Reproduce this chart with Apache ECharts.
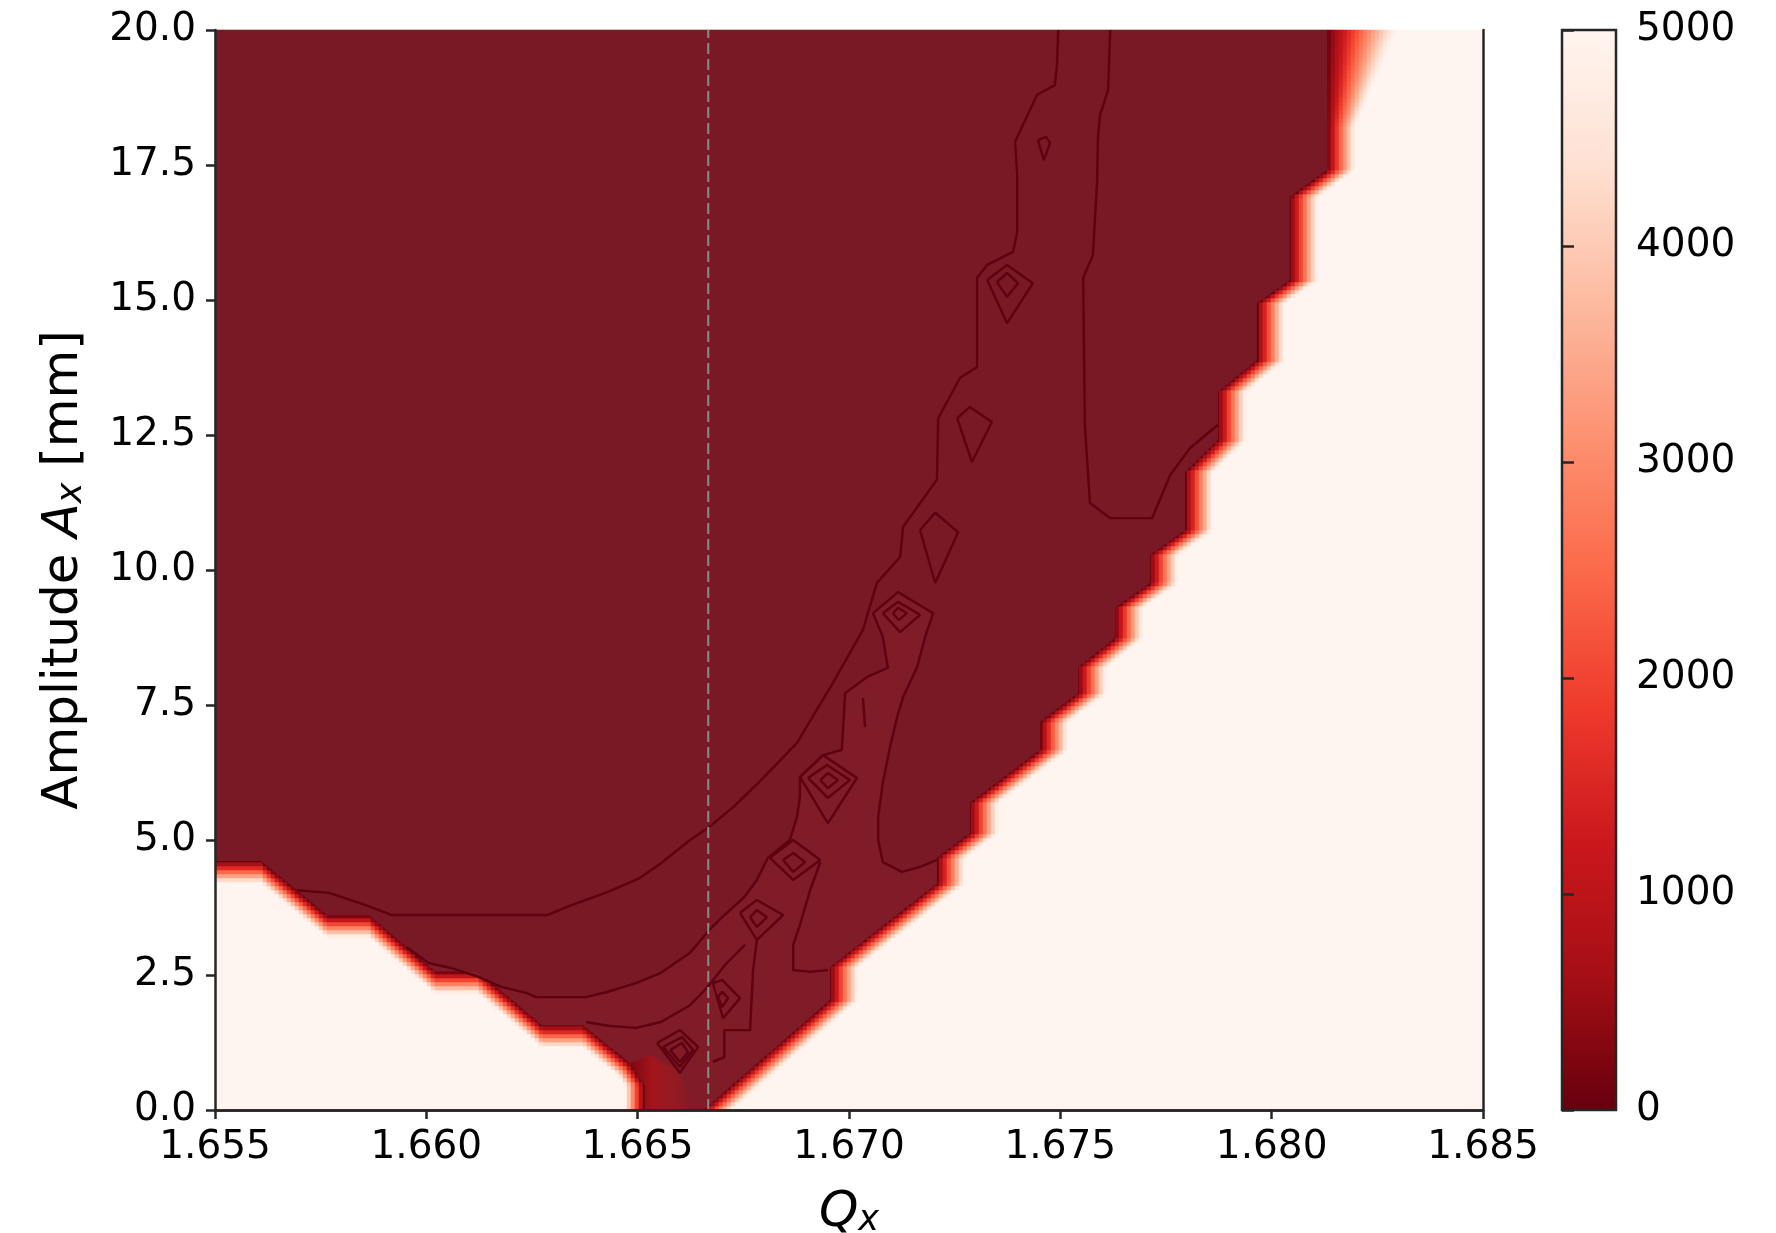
<!DOCTYPE html>
<html><head><meta charset="utf-8">
<script src="https://cdn.jsdelivr.net/npm/echarts@6/dist/echarts.min.js"></script>
<style>html,body{margin:0;padding:0;background:#fff}#c{width:1776px;height:1233px}</style>
</head><body><div id="c"></div>
<script>
// ---------------- data ----------------
const qRange = [1.655, 1.685];
const aRange = [0, 20];
const turnRange = [0, 5000];
const qTickStep = 0.005, aTickStep = 2.5, turnTickStep = 1000;
const resonanceQ = 1.66667;

// right edge of the stable region, top -> bottom
const rightEdgeQ = [1.68131,1.68131,1.68043,1.68043,1.67965,1.67965,1.67873,1.67873,1.67795,1.67795,1.67712,1.67712,1.67629,1.67629,1.67542,1.67542,1.67452,1.67452,1.67286,1.67286,1.67208,1.67208,1.66955,1.66955,1.66655];
const rightEdgeA = [20,17.41,16.91,15.37,14.94,13.89,13.30,12.41,11.81,10.74,10.28,9.76,9.30,8.74,8.20,7.72,7.19,6.67,5.69,5.13,4.67,4.20,2.65,2.04,0];
// lower-left edge of the stable region, bottom -> top-left
const leftEdgeQ = [1.66517,1.66517,1.66482,1.66371,1.66274,1.66122,1.66021,1.65864,1.65765,1.65609,1.655];
const leftEdgeA = [0,0.46,0.87,1.57,1.57,2.57,2.57,3.61,3.61,4.61,4.61];

// contour lines inside the stable region  [Qx, Ax]
const contourArc = [[1.65694,4.07],[1.65770,4.02],[1.65855,3.80],[1.65919,3.61],[1.66286,3.61],[1.66345,3.80],[1.66430,4.04],[1.66506,4.30],[1.66555,4.57],[1.66624,5.00],[1.66669,5.24],[1.66726,5.61],[1.66792,6.11],[1.66877,6.80],[1.66962,7.91],[1.67033,8.89],[1.67066,9.76],[1.67121,10.24],[1.67128,10.80],[1.67208,11.67],[1.67211,12.81],[1.67263,13.56],[1.67303,13.76],[1.67303,15.41],[1.67327,15.65],[1.67388,15.89],[1.67398,16.26],[1.67398,17.31],[1.67393,17.93],[1.67445,18.80],[1.67487,18.98],[1.67492,19.35],[1.67495,20.0]];
const contourRight = [[1.67618,20],[1.67613,18.89],[1.67594,18.43],[1.67589,18.0],[1.67587,17.19],[1.67577,15.83],[1.67554,15.41],[1.67558,12.69],[1.67570,11.24],[1.67618,10.96],[1.67717,10.96],[1.67760,11.76],[1.67807,12.26],[1.67873,12.69]];
const contourStripe = [[1.65952,3.02],[1.66006,2.72],[1.66058,2.63],[1.66125,2.46],[1.66177,2.28],[1.66236,2.17],[1.66260,2.09],[1.66378,2.09],[1.66430,2.19],[1.66496,2.35],[1.66555,2.54],[1.66624,2.91],[1.66669,3.33],[1.66700,3.57],[1.66752,3.94],[1.66782,4.26],[1.66808,4.67],[1.66860,5.00],[1.66877,5.43],[1.66884,5.80],[1.66884,6.17],[1.66939,6.57],[1.66983,6.67],[1.66991,7.72],[1.67043,8.02],[1.67092,8.19],[1.67080,8.76],[1.67057,9.20],[1.67116,9.59],[1.67199,9.20],[1.67180,8.76],[1.67161,8.20],[1.67128,7.65],[1.67114,7.28],[1.67097,6.72],[1.67080,6.06],[1.67069,5.43],[1.67069,5.00],[1.67080,4.59],[1.67125,4.41],[1.67168,4.50],[1.67208,4.63]];
const contourLow = [[1.66378,1.63],[1.66430,1.56],[1.66496,1.52],[1.66555,1.63],[1.66624,1.94],[1.66669,2.31],[1.66707,2.69],[1.66754,3.06]];
const contourS2 = [[1.66932,4.59],[1.66908,4.07],[1.66884,3.43],[1.66868,3.06],[1.66868,2.59],[1.66908,2.56],[1.66950,2.59]];
const contourS3 = [[1.66782,3.15],[1.66773,2.59],[1.66766,1.48],[1.66705,1.48],[1.66705,0.98],[1.66678,0.89]];
const contourTick = [[1.67033,7.63],[1.67038,7.09]];
const islands = [
  [[1.67168,10.74],[1.67204,11.06],[1.67258,10.70],[1.67204,9.76],[1.67168,10.74]],
  [[1.67256,12.81],[1.67286,13.02],[1.67338,12.74],[1.67291,12.0],[1.67256,12.81]],
  [[1.67327,15.37],[1.67374,15.65],[1.67435,15.31],[1.67374,14.57],[1.67327,15.37]],
  [[1.67350,15.33],[1.67374,15.50],[1.67400,15.31],[1.67374,15.06],[1.67350,15.33]],
  [[1.67447,17.96],[1.67466,18.02],[1.67476,17.91],[1.67461,17.59],[1.67447,17.96]],
  [[1.67080,9.20],[1.67116,9.41],[1.67168,9.17],[1.67121,8.85],[1.67080,9.20]],
  [[1.67104,9.20],[1.67116,9.30],[1.67137,9.20],[1.67118,9.07],[1.67104,9.20]],
  [[1.66884,6.17],[1.66939,6.57],[1.67019,6.15],[1.66950,5.31],[1.66884,6.17]],
  [[1.66903,6.15],[1.66948,6.39],[1.67002,6.11],[1.66950,5.78],[1.66903,6.15]],
  [[1.66932,6.11],[1.66950,6.24],[1.66974,6.11],[1.66950,5.96],[1.66932,6.11]],
  [[1.66813,4.67],[1.66868,5.00],[1.66932,4.63],[1.66868,4.26],[1.66813,4.67]],
  [[1.66844,4.63],[1.66868,4.76],[1.66896,4.59],[1.66868,4.41],[1.66844,4.63]],
  [[1.66742,3.65],[1.66782,3.89],[1.66844,3.61],[1.66782,3.15],[1.66742,3.65]],
  [[1.66766,3.57],[1.66782,3.70],[1.66806,3.57],[1.66782,3.39],[1.66766,3.57]],
  [[1.66678,2.35],[1.66700,2.41],[1.66742,2.07],[1.66702,1.70],[1.66678,2.35]],
  [[1.66690,2.09],[1.66700,2.19],[1.66714,2.07],[1.66700,1.91],[1.66690,2.09]],
  [[1.66546,1.24],[1.66600,1.48],[1.66643,1.17],[1.66600,0.69],[1.66546,1.24]],
  [[1.66560,1.17],[1.66605,1.35],[1.66631,1.11],[1.66600,0.80],[1.66560,1.17]],
  [[1.66577,1.11],[1.66605,1.24],[1.66619,1.07],[1.66600,0.89],[1.66577,1.11]]
];
// low-survival smear at the bottom of the resonance (left edge of interior)
const smearPoly = [[1.66517,0],[1.66517,0.46],[1.66482,0.87],[1.66530,1.02],[1.66590,0.75],[1.66625,0.30],[1.66630,0]];

// ---------------- layout / style ----------------
const G = {left:215, top:30, width:1268, height:1080};
const CB = {left:1562, top:30, width:54, height:1080};
const NX = 317, NY = 270;            // heatmap cells (4 px each)
const bandX = 28, bandXTop = 42, bandXL = 20, bandY = 22; // blur width of image edge (px)
const reds = ['#67000d','#a50f15','#cb181d','#ef3b2c','#fb6a4a','#fc9272','#fcbba1','#fee0d2','#fff5f0'];
const fillMain = '#7a1926', fillStripe = '#801b28', lineCol = '#5e0010', axisCol = '#262626';
const FONT = 'DejaVu Sans';
const TICK_FS = 39, NAME_FS = 50;

// ---------------- build grid ----------------
function interp(xs, ys, x) {
  for (let k = 0; k < xs.length - 1; k++) {
    const a = xs[k], b = xs[k+1];
    if (b > a && x >= a && x <= b) return ys[k] + (ys[k+1]-ys[k])*(x-a)/(b-a);
  }
  return null;
}
const rA = rightEdgeA.slice().reverse(), rQ = rightEdgeQ.slice().reverse();
const lA = leftEdgeA, lQ = leftEdgeQ;
const lQs = leftEdgeQ.slice().reverse(), lAs = leftEdgeA.slice().reverse();
const pxQ = G.width/(qRange[1]-qRange[0]), pxA = G.height/(aRange[1]-aRange[0]);
const cols = Array.from({length:NX},(_,i)=>i), rows = Array.from({length:NY},(_,j)=>j);
const cells = [];
for (let j = 0; j < NY; j++) {
  const A = aRange[0] + (j+0.5)*(aRange[1]-aRange[0])/NY;
  const qr = interp(rA, rQ, A);
  let ql = interp(lA, lQ, A); if (ql === null) ql = A > 4 ? -Infinity : lQ[0];
  const bx = bandX + bandXTop*Math.max(0, Math.min(1, (A-18.2)/1.8));
  for (let i = 0; i < NX; i++) {
    const Q = qRange[0] + (i+0.5)*(qRange[1]-qRange[0])/NX;
    let t;
    if (Q > ql && Q < qr) t = 0;
    else if (Q >= qr) t = (Q-qr)*pxQ/bx;
    else {
      const dh = (ql-Q)*pxQ/bandXL;
      const yl = Q < lQs[lQs.length-1] ? interp(lQs, lAs, Q) : null;
      const dv = yl === null ? Infinity : (yl-A)*pxA/bandY;
      t = Math.min(dh, dv);
    }
    cells.push([i, j, Math.round(turnRange[1]*Math.max(0, Math.min(1, t)))]);
  }
}
const interiorPoly = [[qRange[0], aRange[1]]]
  .concat(rightEdgeQ.map((q,k)=>[q, rightEdgeA[k]]))
  .concat(leftEdgeQ.map((q,k)=>[q, leftEdgeA[k]]));
const stripePoly = contourStripe.slice()
  .concat([[1.67208,4.20],[1.66955,2.65],[1.66955,2.04],[1.66655,0],[1.66517,0],[1.66517,0.46],[1.66482,0.87],[1.66371,1.57],[1.66274,1.57],[1.66122,2.57],[1.66021,2.57]]);

// ---------------- chart ----------------
const chart = echarts.init(document.getElementById('c'), null, {renderer:'canvas'});
const lbl = {fontSize:TICK_FS, color:'#000', fontFamily:FONT};
const aLine = {show:true, lineStyle:{color:axisCol, width:2.5}};
const aTick = {show:true, length:9, lineStyle:{color:axisCol, width:2.5}};
function polySeries(poly, fill, z) {
  return {type:'custom', xAxisIndex:1, yAxisIndex:1, data:[[poly[0][0], poly[0][1]]], clip:true, silent:true, z:z,
    renderItem:(p, api)=>({type:'polygon', shape:{points: poly.map(pt=>api.coord(pt))}, style:{fill:fill}})};
}
function lineSeries(arr, extra) {
  return Object.assign({type:'line', xAxisIndex:1, yAxisIndex:1, data:arr, showSymbol:false, symbol:'none', silent:true, clip:true, z:5,
    lineStyle:{color:lineCol, width:2.4}}, extra||{});
}
const smearFill = {type:'linear', x:0, y:0, x2:1, y2:0, colorStops:[
  {offset:0, color:'#7d0711'}, {offset:0.35, color:'#a3141b'}, {offset:0.7, color:'#951a22'}, {offset:1, color:'#801b28'}]};
const series = [
  {type:'heatmap', xAxisIndex:0, yAxisIndex:0, data:cells, progressive:0, silent:true, itemStyle:{borderWidth:0}, emphasis:{disabled:true}},
  polySeries(interiorPoly, fillMain, 3),
  polySeries(stripePoly, fillStripe, 4),
  polySeries(smearPoly, smearFill, 4),
  lineSeries(contourArc), lineSeries(contourRight), lineSeries(contourStripe), lineSeries(contourLow),
  lineSeries(contourS2), lineSeries(contourS3), lineSeries(contourTick)
].concat(islands.map(d=>lineSeries(d)))
 .concat([lineSeries([[resonanceQ, aRange[0]],[resonanceQ, aRange[1]]], {z:6, lineStyle:{color:'#8a8a8a', width:2, type:[11,5]}})]);

const richName = {
  t:{fontSize:NAME_FS, fontFamily:FONT, color:'#000', lineHeight:58, verticalAlign:'bottom'},
  i:{fontSize:NAME_FS, fontStyle:'italic', fontFamily:FONT, color:'#000', lineHeight:58, verticalAlign:'bottom'},
  s:{fontSize:Math.round(NAME_FS*0.7), fontStyle:'italic', fontFamily:FONT, color:'#000', lineHeight:30, verticalAlign:'bottom'}
};
chart.setOption({
  animation:false,
  backgroundColor:'#ffffff',
  textStyle:{fontFamily:FONT},
  grid:[
    Object.assign({outerBoundsMode:'none', containLabel:false}, G),
    Object.assign({outerBoundsMode:'none', containLabel:false, show:true, borderColor:axisCol, borderWidth:2.5, z:10, backgroundColor:'transparent'}, CB)
  ],
  visualMap:{type:'continuous', seriesIndex:0, min:turnRange[0], max:turnRange[1], inRange:{color:reds},
    left:CB.left, top:CB.top, itemWidth:CB.width, itemHeight:CB.height, padding:0, calculable:false, hoverLink:false, text:null, showLabel:false},
  xAxis:[
    {type:'category', gridIndex:0, data:cols, position:'top', boundaryGap:true, z:10,
      axisLine:aLine, axisTick:{show:false}, axisLabel:{show:false}, splitLine:{show:false}},
    {type:'value', gridIndex:0, min:qRange[0], max:qRange[1], interval:qTickStep, position:'bottom', z:10,
      axisLine:aLine, axisTick:aTick, splitLine:{show:false},
      axisLabel:Object.assign({margin:18, formatter:v=>v.toFixed(3)}, lbl),
      name:'{i|Q}{s|x}', nameLocation:'middle', nameGap:70, nameTextStyle:{rich:richName}},
    {type:'value', gridIndex:1, min:0, max:1, show:false}
  ],
  yAxis:[
    {type:'category', gridIndex:0, data:rows, position:'right', boundaryGap:true, z:10,
      axisLine:aLine, axisTick:{show:false}, axisLabel:{show:false}, splitLine:{show:false}},
    {type:'value', gridIndex:0, min:aRange[0], max:aRange[1], interval:aTickStep, position:'left', z:10,
      axisLine:aLine, axisTick:aTick, splitLine:{show:false},
      axisLabel:Object.assign({margin:19, formatter:v=>v.toFixed(1)}, lbl),
      name:'{t|Amplitude }{i|A}{s|x}{t| [mm]}', nameLocation:'middle', nameRotate:90, nameGap:126, nameTextStyle:{rich:richName}},
    {type:'value', gridIndex:1, min:turnRange[0], max:turnRange[1], interval:turnTickStep, position:'right', z:10,
      axisLine:{show:false}, axisTick:{show:true, length:12, lineStyle:{color:axisCol, width:2.5}}, splitLine:{show:false},
      axisLabel:Object.assign({margin:20, formatter:v=>String(v)}, lbl)}
  ],
  series:series
});
</script></body></html>
